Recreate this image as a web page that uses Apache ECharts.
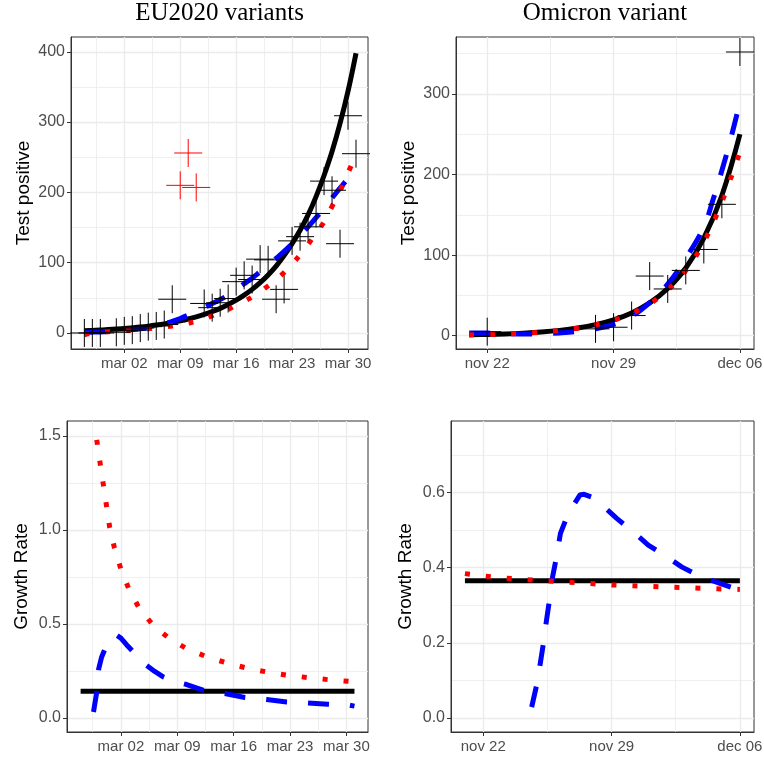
<!DOCTYPE html>
<html><head><meta charset="utf-8">
<script src="https://cdn.jsdelivr.net/npm/echarts@6/dist/echarts.min.js"></script>
<style>html,body{margin:0;padding:0;background:#fff}#c{width:764px;height:760px}</style>
</head><body><div id="c"></div>
<script>
// ---------- EU2020 (day 0 = mar 02) ----------
const euTickDays = [0, 7, 14, 21, 28];
const euTickLabels = ['mar 02', 'mar 09', 'mar 16', 'mar 23', 'mar 30'];
const euMinorDays = [-3.5, 3.5, 10.5, 17.5, 24.5];
const euObsDays = [-5,-4,-3,-1,0,1,2,3,4,5,6,10,11,12,13,14,15,16,17,18,19,20,21,22,23,24,25,26,27,28,29];
const euObsPos  = [0,0,0,1,3,4,7,9,10,12,48,42,36,43,49,73,82,76,105,104,48,62,131,137,151,170,216,203,127,309,255];
const euOutDays = [7, 8, 9];
const euOutPos  = [210, 256, 207];
const euFitDays = [-5,-4,-3,-2,-1,0,1,2,3,4,5,6,7,8,9,10,11,12,13,14,15,16,17,18,19,20,21,22,23,24,25,26,27,28,29];
const euBlackFit = [3.1,3.6,4.1,4.8,5.5,6.3,7.3,8.4,9.7,11.2,12.9,14.9,17.2,19.8,22.8,26.3,30.4,35.0,40.4,46.6,53.8,62.0,71.5,82.5,95.2,110,127,146,168,194,224,258,298,344,398];
const euBlueFit  = [1.0,1.2,1.5,2.0,2.8,3.9,5.0,6.0,7.2,9.5,12.5,16.5,20.5,25.5,31,36,42,47.5,54,62,70,78,87,96,106,116,127,139,151,164,177,192,206,220,234];
const euRedFit   = [-2.5,0,1,1.8,2.5,3.2,4,5,6,7.2,8.5,10,11.8,14,16.5,20,24.5,29,33.5,39.5,45,51,58.5,67,76,86,98,111,126,142,158,180,202,228,252];
const euPosTicks = [0, 100, 200, 300, 400];
const euPosMinor = [50, 150, 250, 350];

const euBlackGrDays = [-5, 29];
const euBlackGr = [0.142, 0.142];
const euRedGrDays = [-3,-2.6,-2.2,-1.8,-1.4,-0.8,0,1,2.3,4,6,8.3,10.7,13.1,15.6,18.1,20.8,23.2,25.7,28.3,29];
const euRedGr = [1.48,1.363,1.248,1.133,1.017,0.905,0.792,0.685,0.582,0.494,0.423,0.366,0.325,0.293,0.266,0.245,0.227,0.215,0.204,0.195,0.192];
const euBlueGrDays = [-3.4,-3.0,-2.75,-2.4,-1.95,-1.35,-0.9,-0.6,0,0.7,1.4,2.3,3.2,4.2,5.3,6.6,8,9,10.2,11.5,12.9,15.4,18.1,20.6,23.2,25.7,28.4,29];
const euBlueGr = [0.032,0.138,0.263,0.323,0.37,0.409,0.435,0.442,0.425,0.39,0.358,0.318,0.28,0.248,0.218,0.195,0.18,0.165,0.148,0.138,0.13,0.109,0.098,0.085,0.08,0.073,0.068,0.063];
const euGrTicks = [0, 0.5, 1.0, 1.5];
const euGrMinor = [0.25, 0.75, 1.25];

// ---------- Omicron (day 0 = nov 22) ----------
const omTickDays = [0, 7, 14];
const omTickLabels = ['nov 22', 'nov 29', 'dec 06'];
const omMinorDays = [3.5, 10.5];
const omObsDays = [0,6,7,8,9,10,11,12,13,14];
const omObsPos  = [5,8.5,10.5,25,74,58,81,107,163,352];
const omFitDays = [-1,0,1,2,3,4,5,6,7,8,9,10,11,12,13,14];
const omBlackFit = [1.1,1.55,2.2,3.2,4.6,6.6,9.5,13.7,19.7,28.3,40.7,58.5,84,121,174,250];
const omRedFit   = [1.0,1.5,2.1,3.1,4.5,6.5,9.3,13.4,19.2,27.5,39.5,56.5,81,116,166,228];
const omBlueDays = [-1,0,1,2,3,4,5,6,7,8,9,10,11,12,12.5,13,13.5,14];
const omBlueFit  = [3.5,3.2,2.6,2.2,2.4,3.4,5.2,8.5,14,24,41,64,96,135,168,205,245,290];
const omPosTicks = [0, 100, 200, 300];
const omPosMinor = [50, 150, 250, 350];

const omBlackGrDays = [-1, 14];
const omBlackGr = [0.365, 0.365];
const omRedGrDays = [-1,0,1,2,3,4,5,6,7,8,9,10,11,12,13,14];
const omRedGr = [0.384,0.378,0.373,0.369,0.366,0.363,0.36,0.357,0.354,0.352,0.35,0.348,0.347,0.345,0.343,0.342];
const omBlueGrDays = [2.64,2.91,3.11,3.28,3.45,3.61,3.78,4.0,4.21,4.64,5.27,5.5,5.9,6.37,7.28,8.18,9.0,10.0,10.82,11.9,12.8,14.0];
const omBlueGr = [0.029,0.087,0.145,0.198,0.26,0.313,0.375,0.429,0.491,0.544,0.593,0.595,0.588,0.571,0.531,0.495,0.46,0.429,0.402,0.375,0.36,0.34];
const omGrTicks = [0, 0.2, 0.4, 0.6];
const omGrMinor = [0.1, 0.3, 0.5, 0.7];

// ---------- helpers ----------
const zip = (xs, ys) => xs.map((x, i) => [x, ys[i]]);
const SANS = 'Liberation Sans';
const grids = [
  {left: 71, top: 37, width: 297, height: 312},
  {left: 456, top: 37, width: 298, height: 312},
  {left: 67, top: 421, width: 301, height: 311},
  {left: 451, top: 421, width: 303, height: 311}
].map(g => Object.assign({show: true, borderColor: '#333333', borderWidth: 1, backgroundColor: '#fff', containLabel: false, outerBoundsMode: 'none'}, g));

const xAxes = [], yAxes = [];
function addAxes(g, xr, xt, xl, xm, yr, yt, ym, yfmt, yname, nameGap) {
  xAxes.push({type: 'value', gridIndex: g, min: xr[0], max: xr[1],
    axisLine: {show: true, onZero: false, lineStyle: {color: '#333333', width: 1}},
    axisTick: {show: true, length: 4, lineStyle: {color: '#333333', width: 1}, customValues: xt},
    axisLabel: {customValues: xt, formatter: v => xl[xt.indexOf(v)] || '', color: '#4D4D4D', fontSize: 15, fontFamily: SANS, margin: 7},
    splitLine: {show: true, lineStyle: {color: '#EBEBEB', width: 1.4}}});
  xAxes.push({type: 'value', gridIndex: g, min: xr[0], max: xr[1],
    axisLine: {show: false, onZero: false}, axisTick: {show: false, customValues: xm}, axisLabel: {show: false, customValues: xm},
    splitLine: {show: true, lineStyle: {color: '#EBEBEB', width: 0.8}}});
  yAxes.push({type: 'value', gridIndex: g, min: yr[0], max: yr[1],
    name: yname, nameLocation: 'middle', nameGap: nameGap,
    nameTextStyle: {fontSize: 19, color: '#000', fontFamily: SANS},
    axisLine: {show: true, onZero: false, lineStyle: {color: '#333333', width: 1}},
    axisTick: {show: true, length: 4, lineStyle: {color: '#333333', width: 1}, customValues: yt},
    axisLabel: {customValues: yt, formatter: yfmt, color: '#4D4D4D', fontSize: 16, fontFamily: SANS, margin: 6},
    splitLine: {show: true, lineStyle: {color: '#EBEBEB', width: 1.4}}});
  yAxes.push({type: 'value', gridIndex: g, min: yr[0], max: yr[1],
    axisLine: {show: false, onZero: false}, axisTick: {show: false, customValues: ym}, axisLabel: {show: false, customValues: ym},
    splitLine: {show: true, lineStyle: {color: '#EBEBEB', width: 0.8}}});
}
const intFmt = v => String(v);
const decFmt = v => v.toFixed(1);
addAxes(0, [-6.67, 30.5], euTickDays, euTickLabels, euMinorDays, [-22.8, 421], euPosTicks, euPosMinor, intFmt, 'Test positive', 38);
addAxes(1, [-1.73, 14.78], omTickDays, omTickLabels, omMinorDays, [-16.5, 370.6], omPosTicks, omPosMinor, intFmt, 'Test positive', 38);
addAxes(2, [-6.69, 30.68], euTickDays, euTickLabels, euMinorDays, [-0.0745, 1.58], euGrTicks, euGrMinor, decFmt, 'Growth Rate', 36);
addAxes(3, [-1.76, 14.77], omTickDays, omTickLabels, omMinorDays, [-0.0373, 0.79], omGrTicks, omGrMinor, decFmt, 'Growth Rate', 36);

function line(g, data, color, type, smooth) {
  return {type: 'line', xAxisIndex: 2 * g, yAxisIndex: 2 * g, data: data, showSymbol: false, symbol: 'none',
    smooth: smooth, silent: true, emphasis: {disabled: true},
    lineStyle: {color: color, width: 5, type: type, cap: 'butt', join: 'round'}, z: 3};
}
const CROSS = 'path://M1,0L1,2M0,1L2,1';
function crosses(g, data, color) {
  return {type: 'scatter', xAxisIndex: 2 * g, yAxisIndex: 2 * g, data: data, symbol: CROSS, symbolSize: 28,
    silent: true, emphasis: {disabled: true},
    itemStyle: {color: 'rgba(0,0,0,0)', borderColor: color, borderWidth: 1, opacity: 1}, z: 4};
}
const SOLID = 'solid', DASH = [21, 21], DOT = [5, 16];
const series = [
  line(0, zip(euFitDays, euBlackFit), '#000000', SOLID, 0.4),
  line(0, zip(euFitDays, euBlueFit), '#0000FF', DASH, 0.4),
  line(0, zip(euFitDays, euRedFit), '#FF0000', DOT, 0.4),
  crosses(0, zip(euObsDays, euObsPos), '#000000'),
  crosses(0, zip(euOutDays, euOutPos), '#FF0000'),
  line(1, zip(omFitDays, omBlackFit), '#000000', SOLID, 0.4),
  line(1, zip(omBlueDays, omBlueFit), '#0000FF', DASH, 0.4),
  line(1, zip(omFitDays, omRedFit), '#FF0000', DOT, 0.4),
  crosses(1, zip(omObsDays, omObsPos), '#000000'),
  line(2, zip(euBlackGrDays, euBlackGr), '#000000', SOLID, false),
  line(2, zip(euBlueGrDays, euBlueGr), '#0000FF', DASH, false),
  line(2, zip(euRedGrDays, euRedGr), '#FF0000', DOT, false),
  line(3, zip(omBlackGrDays, omBlackGr), '#000000', SOLID, false),
  line(3, zip(omBlueGrDays, omBlueGr), '#0000FF', DASH, false),
  line(3, zip(omRedGrDays, omRedGr), '#FF0000', DOT, false)
];

const chart = echarts.init(document.getElementById('c'), null, {renderer: 'canvas'});
chart.setOption({
  animation: false,
  backgroundColor: '#ffffff',
  grid: grids,
  xAxis: xAxes,
  yAxis: yAxes,
  series: series,
  graphic: [
    {type: 'text', x: 219.5, y: 13, style: {text: 'EU2020 variants', fontSize: 25, fontFamily: 'Liberation Serif', fill: '#000', align: 'center', verticalAlign: 'middle', textAlign: 'center', textVerticalAlign: 'middle'}},
    {type: 'text', x: 605, y: 13, style: {text: 'Omicron variant', fontSize: 25, fontFamily: 'Liberation Serif', fill: '#000', align: 'center', verticalAlign: 'middle', textAlign: 'center', textVerticalAlign: 'middle'}}
  ]
});
</script></body></html>
